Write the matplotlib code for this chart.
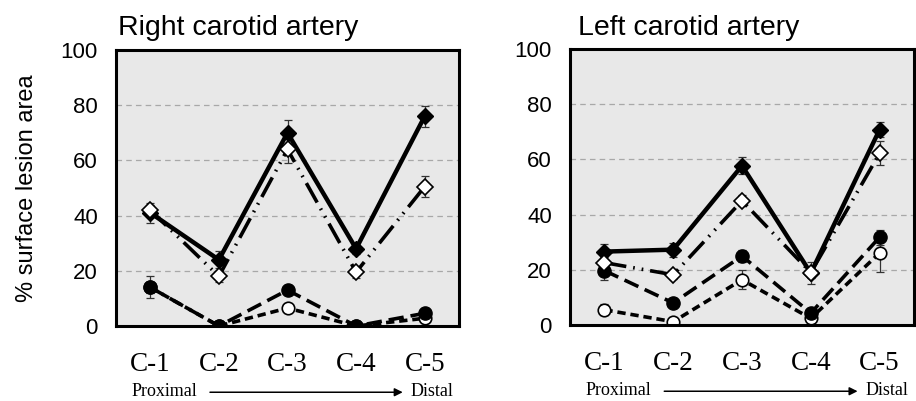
import matplotlib
matplotlib.use("Agg")
import matplotlib.pyplot as plt
import matplotlib.transforms as mtransforms

plt.rcParams['font.family'] = ['Liberation Sans', 'DejaVu Sans']
plt.rcParams['lines.scale_dashes'] = False

segments = ["C-1", "C-2", "C-3", "C-4", "C-5"]

# right carotid artery
right_fd = [41, 24, 70, 28, 76]        # filled diamond, solid
right_fd_err = [3.5, 3, 4.5, 2, 3.8]
right_od = [42, 18, 64, 19.5, 50.5]    # open diamond, dash-dot-dot
right_od_err = [2, 2, 5, 2, 3.8]
right_fc = [14, 0, 13, 0, 4.6]         # filled circle, long dash
right_fc_err = [4, 0, 1, 0, 1]
right_oc = [14, 0, 6.5, 0, 2.8]        # open circle, short dash
right_oc_err = [2, 0, 1, 0, 1]

# left carotid artery
left_fd = [26.6, 27.3, 57.7, 18.8, 70.8]
left_fd_err = [2.7, 2.5, 3, 4, 2.7]
left_od = [22.6, 18.2, 45, 19, 62.2]
left_od_err = [2, 1.5, 2, 2, 4.4]
left_fc = [19.7, 8, 25, 4.3, 31.8]
left_fc_err = [3.3, 1, 2, 1, 2.8]
left_oc = [5.5, 1.2, 16.4, 2.4, 26.1]
left_oc_err = [2, 0.5, 3.5, 1, 7]

titles = ["Right carotid artery", "Left carotid artery"]

fig = plt.figure(figsize=(9.16, 4.01), dpi=100)
ax1 = fig.add_axes([116/916, 75/401, 343/916, 276/401])
ax2 = fig.add_axes([570/916, 76/401, 344/916, 276/401])

x = list(range(len(segments)))


def draw(ax, fd, fde, od, ode, fc, fce, oc, oce):
    ax.set_facecolor("#e8e8e8")
    for y in [20, 40, 60, 80]:
        ax.axhline(y, color="#a8a8a8", lw=0.9, ls=(0, (4, 3)), zorder=1)
    eb = dict(ecolor="#333333", elinewidth=0.9, capsize=3, capthick=0.9, zorder=2)
    # open circle, short dash
    ax.errorbar(x, oc, yerr=oce, fmt="none", **eb)
    ax.plot(x, oc, color="black", lw=2.6, ls=(0, (6, 3.5)), marker="o", ms=9,
            mfc="white", mec="black", mew=1.2, zorder=3)
    # filled circle, long dash
    ax.errorbar(x, fc, yerr=fce, fmt="none", **eb)
    ax.plot(x, fc, color="black", lw=2.6, ls=(0, (11, 5)), marker="o", ms=9.5,
            mfc="black", mec="black", zorder=4)
    # filled diamond, solid
    ax.errorbar(x, fd, yerr=fde, fmt="none", **eb)
    ax.plot(x, fd, color="black", lw=3.2, ls="-", marker="D", ms=8,
            mfc="black", mec="black", zorder=5)
    # open diamond, dash-dot-dot
    ax.errorbar(x, od, yerr=ode, fmt="none", **eb)
    ax.plot(x, od, color="black", lw=2.6, ls=(0, (16, 5, 1.2, 5, 1.2, 5)),
            marker="D", ms=8, mfc="white", mec="black", mew=1.2, zorder=6)

    ax.set_xlim(-0.5, 4.5)
    ax.set_ylim(0, 100)
    ax.set_yticks([0, 20, 40, 60, 80, 100])
    ax.set_xticks(x)
    ax.set_xticklabels(segments, family="Liberation Serif", fontsize=19.5)
    ax.tick_params(axis="y", labelsize=16, length=0, pad=13)
    ax.tick_params(axis="x", length=0, pad=19)
    for s in ax.spines.values():
        s.set_linewidth(2.2)
        s.set_zorder(10)

    trans = mtransforms.blended_transform_factory(ax.transData, ax.transAxes)
    ax.text(-0.28, -0.238, "Proximal", transform=trans, family="Liberation Serif",
            fontsize=13, ha="left", va="center")
    ax.text(4.42, -0.238, "Distal", transform=trans, family="Liberation Serif",
            fontsize=13, ha="right", va="center")
    ax.annotate("", xy=(3.68, -0.24), xytext=(0.87, -0.24), xycoords=trans,
                textcoords=trans, annotation_clip=False,
                arrowprops=dict(arrowstyle="-|>", color="black", lw=1.1,
                                mutation_scale=12, shrinkA=0, shrinkB=0))


draw(ax1, right_fd, right_fd_err, right_od, right_od_err,
     right_fc, right_fc_err, right_oc, right_oc_err)
draw(ax2, left_fd, left_fd_err, left_od, left_od_err,
     left_fc, left_fc_err, left_oc, left_oc_err)

ax1.set_ylabel("% surface lesion area", fontsize=17, labelpad=16)

fig.text(118/916, 1 - 35/401, titles[0], fontsize=20.5, ha="left", va="baseline")
fig.text(578/916, 1 - 35/401, titles[1], fontsize=20.5, ha="left", va="baseline")

fig.savefig("out.png", dpi=100)
